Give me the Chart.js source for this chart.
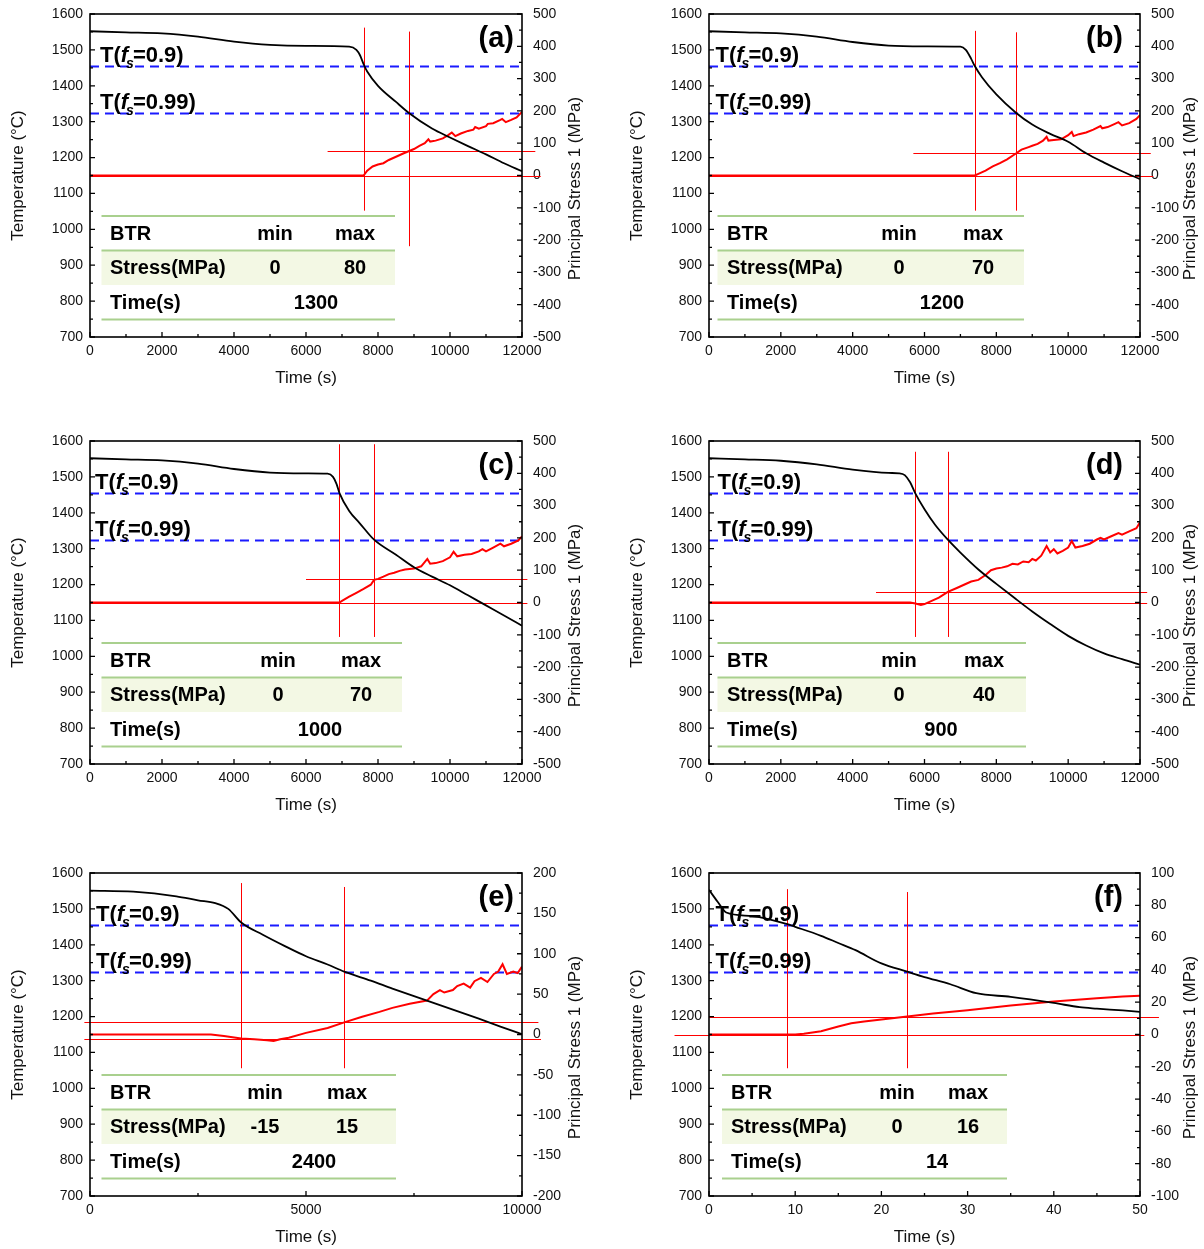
<!DOCTYPE html>
<html>
<head>
<meta charset="utf-8">
<script src="https://cdn.jsdelivr.net/npm/chart.js@4.4.0/dist/chart.umd.min.js"></script>
<style>
body { margin: 0; background: #fff; width: 1204px; height: 1249px; position: relative; overflow: hidden; }
canvas { position: absolute; }
</style>
</head>
<body>
<canvas id="ca" style="left:0;top:0" width="602" height="400"></canvas>
<canvas id="cb" style="left:619px;top:0" width="585" height="400"></canvas>
<canvas id="cc" style="left:0;top:427px" width="602" height="400"></canvas>
<canvas id="cd" style="left:619px;top:427px" width="585" height="400"></canvas>
<canvas id="ce" style="left:0;top:859px" width="602" height="400"></canvas>
<canvas id="cf" style="left:619px;top:859px" width="585" height="400"></canvas>
<script>
// axis ranges: [min, max, major step]
var tempAxis = [700, 1600, 100];
var timeLong = [0, 12000, 2000];
var timeE = [0, 10000, 5000];
var timeF = [0, 50, 10];
var stressWide = [-500, 500, 100];
var stressE = [-200, 200, 50];
var stressF = [-100, 100, 20];

// solid fraction temperatures (blue dashed)
var fsTemps = [1455, 1325];
var fsNames = ['0.9', '0.99'];
var btrHead = ['BTR', 'min', 'max'];

// ---- (a) ----
var aTempTime = [0, 1000, 2000, 3000, 4000, 5000, 6000, 7200, 7400, 7500, 7600, 7700, 8000, 8500, 8850, 9500, 10000, 10500, 11000, 11500, 12000];
var aTemp = [1552, 1549, 1546, 1537, 1523, 1514, 1511, 1509, 1500, 1485, 1460, 1440, 1400, 1355, 1325, 1281, 1256, 1232, 1209, 1184, 1162];
var aStressTime = [0, 7600, 7700, 7850, 8000, 8150, 8300, 8500, 8700, 8850, 9000, 9150, 9300, 9400, 9450, 9600, 9800, 9950, 10050, 10150, 10300, 10500, 10650, 10700, 10800, 11000, 11050, 11200, 11400, 11450, 11550, 11700, 11850, 12000];
var aStress = [0, 0, 15, 28, 34, 38, 48, 58, 68, 75, 82, 92, 100, 112, 105, 108, 115, 125, 133, 122, 130, 138, 142, 150, 145, 153, 160, 162, 172, 175, 165, 172, 180, 197];
var aVLines = [[7600, 1562, 1052], [8850, 1551, 953]];   // time, temp top, temp bottom
var aHLines = [[75, 6600, 12370], [0, 0, 12520]];        // stress, time from, time to
var aBTR = ['0', '80', '1300'];

// ---- (b) ----
var bTempTime = [0, 1000, 2000, 3000, 4000, 5000, 6000, 7000, 7150, 7300, 7400, 7600, 8000, 8545, 9000, 9500, 10000, 10500, 11000, 11500, 12000];
var bTemp = [1552, 1549, 1546, 1537, 1522, 1512, 1510, 1509, 1500, 1475, 1455, 1424, 1376, 1325, 1292, 1266, 1244, 1212, 1186, 1162, 1140];
var bStressTime = [0, 7400, 7500, 7700, 7900, 8100, 8300, 8545, 8700, 8900, 9000, 9150, 9300, 9400, 9450, 9600, 9800, 10000, 10100, 10150, 10300, 10500, 10700, 10900, 10950, 11100, 11300, 11400, 11500, 11700, 11900, 12000];
var bStress = [0, 0, 5, 15, 28, 38, 50, 68, 80, 88, 92, 98, 108, 120, 108, 110, 112, 125, 135, 122, 128, 133, 142, 153, 146, 150, 160, 165, 155, 162, 175, 187];
var bVLines = [[7400, 1553, 1052], [8545, 1549, 1052]];
var bHLines = [[70, 5690, 12300], [0, 0, 12370]];
var bBTR = ['0', '70', '1200'];

// ---- (c) ----
var cTempTime = [0, 1000, 2000, 3000, 4000, 5000, 6000, 6600, 6750, 6850, 6930, 7200, 7500, 7890, 8500, 9000, 9500, 10000, 10500, 11000, 11500, 12000];
var cTemp = [1552, 1549, 1546, 1537, 1522, 1512, 1510, 1509, 1500, 1480, 1455, 1405, 1370, 1325, 1283, 1248, 1222, 1198, 1170, 1142, 1114, 1085];
var cStressTime = [0, 6930, 7000, 7200, 7400, 7600, 7800, 7890, 8000, 8150, 8300, 8450, 8600, 8750, 9000, 9200, 9370, 9450, 9600, 9800, 10000, 10100, 10200, 10400, 10600, 10800, 10900, 11000, 11200, 11400, 11500, 11700, 11900, 12000];
var cStress = [0, 0, 5, 18, 30, 42, 55, 70, 73, 80, 88, 92, 98, 102, 105, 112, 135, 120, 122, 128, 140, 157, 143, 148, 150, 158, 165, 158, 170, 182, 174, 182, 192, 205];
var cVLines = [[6930, 1591, 1054], [7890, 1591, 1054]];
var cHLines = [[72, 6000, 12150], [0, 0, 12150]];
var cBTR = ['0', '70', '1000'];

// ---- (d) ----
var dTempTime = [0, 1000, 2000, 3000, 4000, 5000, 5300, 5450, 5600, 5740, 6000, 6300, 6650, 7000, 7500, 8000, 8500, 9000, 9500, 10000, 10500, 11000, 11500, 12000];
var dTemp = [1552, 1549, 1545, 1535, 1520, 1511, 1510, 1505, 1485, 1455, 1410, 1366, 1325, 1289, 1242, 1202, 1163, 1125, 1090, 1057, 1030, 1008, 992, 977];
var dStressTime = [0, 5600, 5750, 5900, 6000, 6200, 6400, 6650, 6900, 7100, 7300, 7500, 7700, 7850, 8000, 8150, 8300, 8450, 8600, 8750, 8900, 9000, 9100, 9250, 9400, 9500, 9600, 9700, 9850, 10000, 10100, 10200, 10400, 10600, 10800, 10900, 11000, 11200, 11400, 11500, 11700, 11900, 12000];
var dStress = [0, 0, -3, -8, -5, 5, 15, 33, 45, 55, 65, 70, 85, 100, 105, 108, 112, 120, 118, 127, 125, 135, 130, 145, 175, 155, 165, 152, 160, 170, 190, 170, 175, 182, 195, 200, 195, 205, 215, 210, 220, 230, 248];
var dVLines = [[5740, 1570, 1054], [6650, 1570, 1054]];
var dHLines = [[33, 4650, 12200], [0, 0, 12200]];
var dBTR = ['0', '40', '900'];

// ---- (e) ----
var eTempTime = [0, 1000, 2000, 2500, 2900, 3200, 3500, 4000, 4500, 5000, 5500, 5885, 6500, 7000, 7500, 8000, 8500, 9000, 9500, 10000];
var eTemp = [1551, 1548, 1535, 1524, 1516, 1500, 1462, 1428, 1397, 1368, 1345, 1325, 1300, 1278, 1257, 1236, 1215, 1194, 1172, 1151];
var eStressTime = [0, 2800, 3100, 3500, 3800, 4100, 4250, 4400, 4600, 5000, 5500, 5885, 6300, 6700, 7000, 7400, 7800, 7950, 8100, 8200, 8400, 8500, 8650, 8800, 8900, 9050, 9200, 9350, 9450, 9550, 9650, 9800, 9900, 10000];
var eStress = [0, 0, -2, -5, -6, -7, -8, -6, -4, 2, 8, 15, 22, 28, 33, 38, 42, 50, 55, 52, 55, 60, 63, 58, 66, 70, 65, 75, 78, 87, 75, 78, 76, 84];
var eVLines = [[3496, 1572, 1056], [5885, 1561, 1056]];
var eHLines = [[15, -130, 10380], [-5, -130, 10440]];
var eBTR = ['-15', '15', '2400'];

// ---- (f) ----
var fTempTime = [0, 1, 2, 5, 9, 10, 13, 15, 17, 20, 23, 25, 28, 31, 35, 40, 43, 45, 48, 50];
var fTemp = [1553, 1520, 1490, 1480, 1458, 1450, 1425, 1405, 1385, 1348, 1325, 1310, 1290, 1265, 1255, 1238, 1226, 1222, 1217, 1213];
var fStressTime = [0, 10, 11, 13, 15, 16.5, 18, 20, 23, 26, 30, 35, 40, 45, 48, 50];
var fStress = [0, 0, 0.5, 2, 5, 7, 8, 9.3, 11.2, 13, 15, 18, 20.5, 22.5, 23.5, 24];
var fVLines = [[9, 1555, 1056], [23, 1547, 1056]];
var fHLines = [[11, 0, 52.2], [0, -4, 50.5]];
var fBTR = ['0', '16', '14'];

var FONT = '"Liberation Sans", Arial, Helvetica, sans-serif';

// pixel layout of each panel (not data)
var colLayout = [
  { leftW: 90, rightW: 80, tagInset: 8, rTitle: 53 },
  { leftW: 90, rightW: 64, tagInset: 17, rTitle: 50 }
];

var panels = [
  { id: 'ca', tag: '(a)', col: 0, x: timeLong, s: stressWide, tt: aTempTime, tv: aTemp, st: aStressTime, sv: aStress, vl: aVLines, hl: aHLines, btr: aBTR,
    tab: { l: 11.5, r: 305, head: 20, min: 185, max: 265, val: 226, lab: 10 } },
  { id: 'cb', tag: '(b)', col: 1, x: timeLong, s: stressWide, tt: bTempTime, tv: bTemp, st: bStressTime, sv: bStress, vl: bVLines, hl: bHLines, btr: bBTR,
    tab: { l: 8.5, r: 315, head: 18, min: 190, max: 274, val: 233, lab: 6.5 } },
  { id: 'cc', tag: '(c)', col: 0, x: timeLong, s: stressWide, tt: cTempTime, tv: cTemp, st: cStressTime, sv: cStress, vl: cVLines, hl: cHLines, btr: cBTR,
    tab: { l: 11.5, r: 312, head: 20, min: 188, max: 271, val: 230, lab: 5 } },
  { id: 'cd', tag: '(d)', col: 1, x: timeLong, s: stressWide, tt: dTempTime, tv: dTemp, st: dStressTime, sv: dStress, vl: dVLines, hl: dHLines, btr: dBTR,
    tab: { l: 8.5, r: 317, head: 18, min: 190, max: 275, val: 232, lab: 8.5 } },
  { id: 'ce', tag: '(e)', col: 0, x: timeE, s: stressE, tt: eTempTime, tv: eTemp, st: eStressTime, sv: eStress, vl: eVLines, hl: eHLines, btr: eBTR,
    tab: { l: 11.5, r: 306, head: 20, min: 175, max: 257, val: 224, lab: 6 } },
  { id: 'cf', tag: '(f)', col: 1, x: timeF, s: stressF, tt: fTempTime, tv: fTemp, st: fStressTime, sv: fStress, vl: fVLines, hl: fHLines, btr: fBTR,
    tab: { l: 13, r: 298, head: 22, min: 188, max: 259, val: 228, lab: 6.5 } }
];

function pts(xs, ys) {
  return xs.map(function (x, i) { return { x: x, y: ys[i] }; });
}

function tickLabel(major) {
  return function (v) { return Math.abs(v % major) < 1e-9 ? v : ''; };
}

function fsLabel(ctx, x, y, val) {
  ctx.fillStyle = '#000';
  ctx.textAlign = 'left';
  ctx.textBaseline = 'alphabetic';
  ctx.font = 'bold 22px ' + FONT;
  ctx.fillText('T(', x, y);
  x += ctx.measureText('T(').width;
  ctx.font = 'italic bold 22px ' + FONT;
  ctx.fillText('f', x, y);
  x += ctx.measureText('f').width;
  ctx.font = 'italic bold 14px ' + FONT;
  ctx.fillText('s', x - 2, y + 6);
  x += ctx.measureText('s').width - 3;
  ctx.font = 'bold 22px ' + FONT;
  ctx.fillText('=' + val + ')', x, y);
}

function makeChart(p) {
  var lay = colLayout[p.col];

  var overlay = {
    id: 'overlay' + p.id,
    beforeDatasetsDraw: function (chart) {
      var ctx = chart.ctx, a = chart.chartArea, sx = chart.scales.x, sy = chart.scales.y, s1 = chart.scales.y1;
      ctx.save();
      // solid fraction lines
      ctx.strokeStyle = '#1a1aff';
      ctx.lineWidth = 2;
      ctx.setLineDash([9, 6]);
      fsTemps.forEach(function (t) {
        var y = Math.round(sy.getPixelForValue(t)) + 0.5;
        ctx.beginPath(); ctx.moveTo(a.left, y); ctx.lineTo(a.right, y); ctx.stroke();
      });
      ctx.setLineDash([]);
      // BTR guide lines
      ctx.strokeStyle = '#ff0000';
      ctx.lineWidth = 1;
      p.vl.forEach(function (v) {
        var x = Math.round(sx.getPixelForValue(v[0])) + 0.5;
        ctx.beginPath(); ctx.moveTo(x, sy.getPixelForValue(v[1])); ctx.lineTo(x, sy.getPixelForValue(v[2])); ctx.stroke();
      });
      p.hl.forEach(function (h) {
        var y = Math.round(s1.getPixelForValue(h[0])) + 0.5;
        ctx.beginPath(); ctx.moveTo(sx.getPixelForValue(h[1]), y); ctx.lineTo(sx.getPixelForValue(h[2]), y); ctx.stroke();
      });
      ctx.restore();
    },
    afterDatasetsDraw: function (chart) {
      var ctx = chart.ctx, a = chart.chartArea, sx = chart.scales.x, sy = chart.scales.y, s1 = chart.scales.y1;
      ctx.save();
      // frame
      ctx.strokeStyle = '#000';
      ctx.lineWidth = 1.6;
      ctx.strokeRect(a.left, a.top, a.right - a.left, a.bottom - a.top);
      // inward ticks
      ctx.lineWidth = 1.3;
      ctx.beginPath();
      sx.ticks.forEach(function (t) {
        var x = sx.getPixelForValue(t.value), len = t.label !== '' ? 5 : 3;
        ctx.moveTo(x, a.bottom); ctx.lineTo(x, a.bottom - len);
      });
      sy.ticks.forEach(function (t) {
        var y = sy.getPixelForValue(t.value), len = t.label !== '' ? 5 : 3;
        ctx.moveTo(a.left, y); ctx.lineTo(a.left + len, y);
      });
      s1.ticks.forEach(function (t) {
        var y = s1.getPixelForValue(t.value), len = t.label !== '' ? 5 : 3;
        ctx.moveTo(a.right, y); ctx.lineTo(a.right - len, y);
      });
      ctx.stroke();

      // fs labels
      fsTemps.forEach(function (t, i) {
        fsLabel(ctx, a.left + p.tab.lab, sy.getPixelForValue(t) - 4, fsNames[i]);
      });

      // panel tag
      ctx.fillStyle = '#000';
      ctx.font = 'bold 29px ' + FONT;
      ctx.textAlign = 'right';
      ctx.textBaseline = 'top';
      ctx.fillText(p.tag, a.right - lay.tagInset, a.top + 10);

      // BTR table
      var t = p.tab, x0 = a.left + t.l, x1 = a.left + t.r, top = a.top + 202, rh = 34.5;
      ctx.fillStyle = '#f3f8e4';
      ctx.fillRect(x0, top + rh, x1 - x0, rh);
      ctx.strokeStyle = '#a9d08e';
      ctx.lineWidth = 2;
      [top, top + rh, top + 3 * rh].forEach(function (y) {
        ctx.beginPath(); ctx.moveTo(x0, y); ctx.lineTo(x1, y); ctx.stroke();
      });
      ctx.fillStyle = '#000';
      ctx.font = 'bold 20px ' + FONT;
      ctx.textBaseline = 'middle';
      ctx.textAlign = 'left';
      ctx.fillText(btrHead[0], a.left + t.head, top + rh * 0.5 + 1);
      ctx.fillText('Stress(MPa)', a.left + t.head, top + rh * 1.5 + 1);
      ctx.fillText('Time(s)', a.left + t.head, top + rh * 2.5 + 1);
      ctx.textAlign = 'center';
      ctx.fillText(btrHead[1], a.left + t.min, top + rh * 0.5 + 1);
      ctx.fillText(btrHead[2], a.left + t.max, top + rh * 0.5 + 1);
      ctx.fillText(p.btr[0], a.left + t.min, top + rh * 1.5 + 1);
      ctx.fillText(p.btr[1], a.left + t.max, top + rh * 1.5 + 1);
      ctx.fillText(p.btr[2], a.left + t.val, top + rh * 2.5 + 1);

      // right axis title, reading upward
      ctx.translate(a.right + lay.rTitle, (a.top + a.bottom) / 2 + 13);
      ctx.rotate(-Math.PI / 2);
      ctx.font = '17px ' + FONT;
      ctx.fillStyle = '#111';
      ctx.textAlign = 'center';
      ctx.textBaseline = 'middle';
      ctx.fillText('Principal Stress 1 (MPa)', 0, 0);
      ctx.restore();
    }
  };

  var tickFont = { family: FONT, size: 14 };
  var noGrid = { display: false, drawTicks: false, tickLength: 0 };
  var ctxEl = document.getElementById(p.id);

  // fixed axis sizes so all panels share the same plot frame
  function fitY(w) {
    return function (s) { s.width = w; s.paddingTop = 0; s.paddingBottom = 0; };
  }

  return new Chart(ctxEl, {
    type: 'line',
    data: {
      datasets: [{
        label: 'Temperature',
        data: pts(p.tt, p.tv),
        yAxisID: 'y',
        borderColor: '#000',
        borderWidth: 1.8,
        pointRadius: 0,
        cubicInterpolationMode: 'monotone',
        fill: false
      }, {
        label: 'Principal Stress 1',
        data: pts(p.st, p.sv),
        yAxisID: 'y1',
        borderColor: '#ff0000',
        borderWidth: 2,
        pointRadius: 0,
        tension: 0,
        fill: false
      }]
    },
    options: {
      responsive: false,
      animation: false,
      layout: { padding: { top: 14, left: 0, right: 0, bottom: 0 } },
      plugins: { legend: { display: false }, tooltip: { enabled: false } },
      scales: {
        x: {
          type: 'linear',
          min: p.x[0], max: p.x[1],
          grid: noGrid,
          border: { display: false },
          afterFit: function (s) { s.height = 63; s.paddingLeft = 0; s.paddingRight = 0; },
          ticks: {
            stepSize: p.x[2] / 2, autoSkip: false, maxRotation: 0, maxTicksLimit: 100,
            font: tickFont, color: '#111', padding: 6,
            callback: tickLabel(p.x[2])
          },
          title: { display: true, text: 'Time (s)', font: { family: FONT, size: 17 }, color: '#111', padding: { top: 4, bottom: 11 } }
        },
        y: {
          position: 'left',
          min: tempAxis[0], max: tempAxis[1],
          grid: noGrid,
          border: { display: false },
          afterFit: fitY(lay.leftW),
          ticks: {
            stepSize: tempAxis[2] / 2, autoSkip: false, maxTicksLimit: 100,
            font: tickFont, color: '#111', padding: 7,
            callback: tickLabel(tempAxis[2])
          },
          title: { display: true, text: 'Temperature (°C)', font: { family: FONT, size: 17 }, color: '#111', padding: { top: 8, bottom: 0 } }
        },
        y1: {
          position: 'right',
          min: p.s[0], max: p.s[1],
          grid: noGrid,
          border: { display: false },
          afterFit: fitY(lay.rightW),
          ticks: {
            stepSize: p.s[2] / 2, autoSkip: false, maxTicksLimit: 100,
            font: tickFont, color: '#111', padding: 11,
            callback: tickLabel(p.s[2])
          }
        }
      }
    },
    plugins: [overlay]
  });
}

var charts = panels.map(makeChart);
</script>
</body>
</html>
